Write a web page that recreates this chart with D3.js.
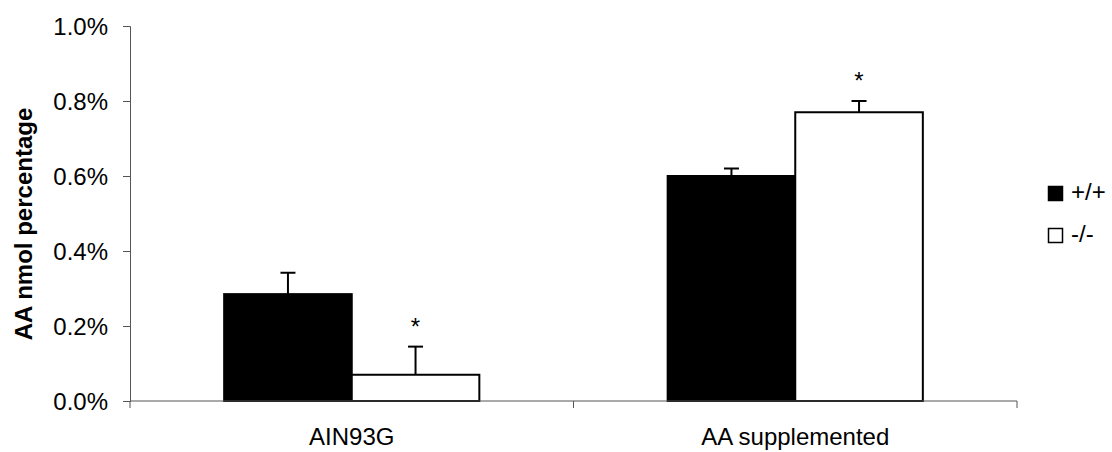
<!DOCTYPE html>
<html><head><meta charset="utf-8">
<script src="https://cdn.jsdelivr.net/npm/d3@7"></script>
<style>body{margin:0;background:#fff}svg{display:block}text{font-family:"Liberation Sans",Arial,sans-serif;fill:#000}</style>
</head><body><svg id="c" width="1112" height="452"></svg>
<script>
const categories = ["AIN93G", "AA supplemented"];
const seriesNames = ["+/+", "-/-"];
const wildType = [0.00285, 0.0060];
const knockout = [0.0007, 0.0077];
const wildTypeErr = [0.00057, 0.0002];
const knockoutErr = [0.00075, 0.0003];
const knockoutStar = [true, true];
const yTicks = [0, 0.002, 0.004, 0.006, 0.008, 0.010];

const FS = "24px";
const svg = d3.select("#c");
const m = {l:130, r:1017, t:26, b:401};
const x = d3.scaleBand().domain(categories).range([m.l, m.r]).paddingInner(0).paddingOuter(0);
const y = d3.scaleLinear().domain([0, 0.01]).range([m.b, m.t]);
const inner = d3.scaleBand().domain(seriesNames).range([0, x.bandwidth()]).paddingOuter(0.738).paddingInner(0);

// y axis
const ya = svg.append("g").attr("transform", `translate(${m.l},0)`)
  .call(d3.axisLeft(y).tickValues(yTicks).tickFormat(d3.format(".1%")).tickSizeOuter(0).tickSize(7).tickPadding(15));
ya.selectAll("text").style("font-size",FS).attr("dy","0.35em");
ya.select(".domain").attr("stroke","#555");
ya.selectAll(".tick line").attr("stroke","#555");

// bars
const data = [];
categories.forEach((c,i)=>{
  data.push({c, s:seriesNames[0], v:wildType[i], e:wildTypeErr[i], fill:"#000", star:false});
  data.push({c, s:seriesNames[1], v:knockout[i], e:knockoutErr[i], fill:"#fff", star:knockoutStar[i]});
});
const g = svg.append("g");
data.forEach(d=>{
  const bx = x(d.c)+inner(d.s), bw = inner.bandwidth(), cx = bx+bw/2;
  g.append("line").attr("x1",cx).attr("x2",cx).attr("y1",y(d.v)).attr("y2",y(d.v+d.e)).attr("stroke","#000").attr("stroke-width",2);
  g.append("line").attr("x1",cx-7.5).attr("x2",cx+7.5).attr("y1",y(d.v+d.e)).attr("y2",y(d.v+d.e)).attr("stroke","#000").attr("stroke-width",2);
  g.append("rect").attr("x",bx).attr("y",y(d.v)).attr("width",bw).attr("height",y(0)-y(d.v))
    .attr("fill",d.fill).attr("stroke","#000").attr("stroke-width",2);
  if(d.star) g.append("text").attr("x",cx).attr("y",y(d.v+d.e)-12).attr("text-anchor","middle").style("font-size",FS).text("*");
});

// x axis
const xa = svg.append("g").attr("transform", `translate(0,${m.b})`);
xa.append("line").attr("x1",m.l).attr("x2",m.r).attr("stroke","#555");
const bounds = [m.l, ...categories.map(c=>x(c)+x.bandwidth())];
bounds.forEach(b=>xa.append("line").attr("x1",b).attr("x2",b).attr("y1",0).attr("y2",7).attr("stroke","#555"));
categories.forEach(c=>xa.append("text").attr("x",x(c)+x.bandwidth()/2).attr("y",44).attr("text-anchor","middle").style("font-size",FS).text(c));

// y title
svg.append("text").attr("transform","translate(32,224) rotate(-90)").attr("text-anchor","middle")
  .style("font-size",FS).style("font-weight","bold").text("AA nmol percentage");

// legend
const lg = svg.append("g");
seriesNames.forEach((s,i)=>{
  const yy = 186 + i*42;
  lg.append("rect").attr("x",1048.5).attr("y",yy+0.5).attr("width",14).attr("height",14)
    .attr("fill", i===0?"#000":"#fff").attr("stroke","#000").attr("stroke-width",1.5);
  lg.append("text").attr("x",1071).attr("y",yy+14).style("font-size",FS).text(s);
});
</script></body></html>
